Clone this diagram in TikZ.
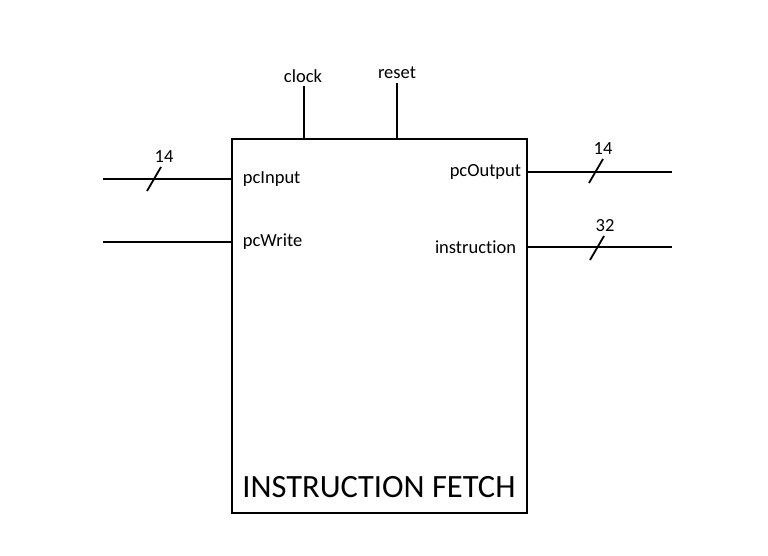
\documentclass[tikz,border=0pt]{standalone}
\usepackage{fontspec}
\setmainfont{Carlito}[Ligatures=NoCommon]
\usetikzlibrary{positioning}

\begin{document}
\begin{tikzpicture}[x=1pt, y=-1pt, line width=1.8pt,
    pinlbl/.style={font=\fontsize{18.5}{22}\selectfont, inner sep=0pt},
    buswidth/.style={font=\fontsize{18.5}{22}\selectfont, inner sep=0pt}]
    \useasboundingbox (0,0) rectangle (768,555);

    % Block
    \node[draw, minimum width=295pt, minimum height=374pt, inner sep=0pt, anchor=north west] (ife) at (231,138) {};
    \node[font=\fontsize{32.5}{38}\selectfont, inner sep=0pt] (title) at (379,487) {INSTRUCTION FETCH};

    % Top inputs
    \node[pinlbl] (clocklbl) at (303,76) {clock};
    \node[pinlbl] (resetlbl) at (397,73) {reset};
    \coordinate (clktop) at (304,86);
    \coordinate (rsttop) at (397,83);
    \draw (clktop) -- (clktop |- ife.north);
    \draw (rsttop) -- (rsttop |- ife.north);

    % Left inputs
    \node[pinlbl, anchor=west] (pcinlbl) at (242,179) {pcInput};
    \node[pinlbl, anchor=west] (pcwrlbl) at (242,242) {pcWrite};
    \coordinate (pcin) at (103,179);
    \coordinate (pcwr) at (103,242);
    \draw (pcin) -- (pcin -| ife.west);
    \draw (pcwr) -- (pcwr -| ife.west);

    % Right outputs
    \node[pinlbl, anchor=east] (pcoutlbl) at (522,172) {pcOutput};
    \node[pinlbl, anchor=east] (instrlbl) at (517,247) {instruction};
    \coordinate (pcout) at (672,172);
    \coordinate (instr) at (672,247);
    \draw (pcout -| ife.east) -- (pcout);
    \draw (instr -| ife.east) -- (instr);

    % Bus widths
    \coordinate (s1) at (154,179);
    \coordinate (s2) at (596,171);
    \coordinate (s3) at (597,248);
    \draw ([shift={(-7,12)}]s1) -- ([shift={(7,-12)}]s1);
    \draw ([shift={(-7,12)}]s2) -- ([shift={(7,-12)}]s2);
    \draw ([shift={(-7,12)}]s3) -- ([shift={(7,-12)}]s3);
    \node[buswidth] (w1) at (164,157) {14};
    \node[buswidth] (w2) at (603,149) {14};
    \node[buswidth] (w3) at (605,226) {32};
\end{tikzpicture}
\end{document}
